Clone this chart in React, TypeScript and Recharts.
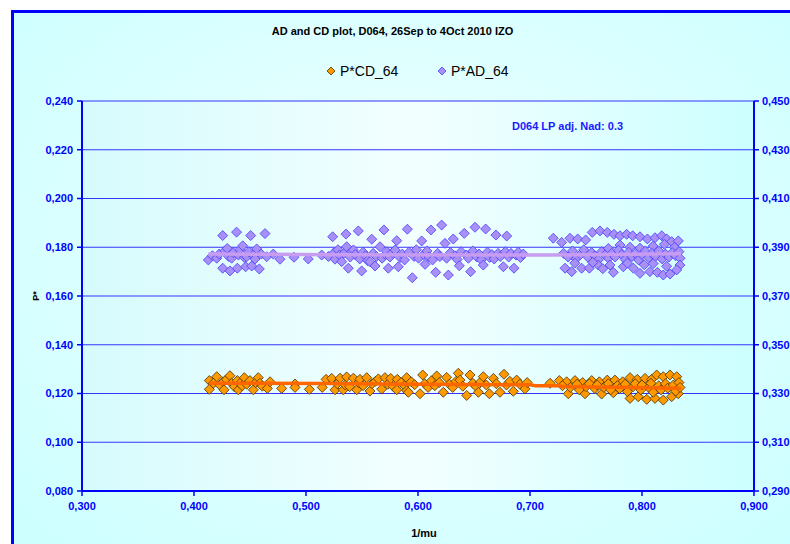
import React from "react";
import { ComposedChart, Scatter, XAxis, YAxis, CartesianGrid } from "recharts";

const xTicks = [0.3, 0.4, 0.5, 0.6, 0.7, 0.8, 0.9];
const leftTicks = [0.08, 0.1, 0.12, 0.14, 0.16, 0.18, 0.2, 0.22, 0.24];
const rightTicks = [0.29, 0.31, 0.33, 0.35, 0.37, 0.39, 0.41, 0.43, 0.45];

const titleText = "AD and CD plot, D064, 26Sep to 4Oct 2010 IZO";
const noteText = "D064 LP adj. Nad: 0.3";
const cdName = "P*CD_64";
const adName = "P*AD_64";

const adPoints: [number, number][] = [
  [0.4128,0.1748],[0.4165,0.1765],[0.4203,0.1755],[0.4225,0.1772],[0.4256,0.1848],[0.4256,0.1714],[0.4275,0.1785],[0.4297,0.1795],[0.4310,0.1762],[0.4321,0.1703],[0.4336,0.1755],[0.4350,0.1778],[0.4380,0.1862],[0.4387,0.1714],[0.4396,0.1768],[0.4410,0.1790],[0.4435,0.1806],[0.4450,0.1758],[0.4461,0.1720],[0.4470,0.1761],[0.4490,0.1782],[0.4506,0.1848],[0.4515,0.1723],[0.4530,0.1768],[0.4545,0.1752],[0.4560,0.1793],[0.4583,0.1711],[0.4600,0.1772],[0.4634,0.1856],[0.4649,0.1761],[0.4708,0.1772],[0.4768,0.1751],[0.4893,0.1759],[0.5020,0.1752],[0.5140,0.1768],
  [0.5200,0.1762],[0.5238,0.1843],[0.5250,0.1778],[0.5259,0.1751],[0.5285,0.1790],[0.5300,0.1768],[0.5319,0.1741],[0.5340,0.1775],[0.5357,0.1854],[0.5363,0.1802],[0.5378,0.1714],[0.5395,0.1760],[0.5410,0.1783],[0.5423,0.1789],[0.5440,0.1770],[0.5467,0.1867],[0.5480,0.1752],[0.5497,0.1703],[0.5510,0.1780],[0.5530,0.1765],[0.5550,0.1745],[0.5571,0.1741],[0.5587,0.1833],[0.5600,0.1775],[0.5616,0.1723],[0.5630,0.1762],[0.5661,0.1802],[0.5680,0.1755],[0.5696,0.1871],[0.5710,0.1770],[0.5721,0.1782],[0.5735,0.1714],[0.5750,0.1760],[0.5770,0.1778],[0.5795,0.1789],[0.5810,0.1827],[0.5824,0.1720],[0.5840,0.1758],[0.5860,0.1772],[0.5880,0.1748],[0.5905,0.1874],[0.5920,0.1780],[0.5949,0.1675],[0.5965,0.1762],[0.5985,0.1790],[0.6005,0.1755],[0.6033,0.1826],[0.6050,0.1770],[0.6063,0.1730],[0.6080,0.1785],[0.6100,0.1760],[0.6116,0.1871],[0.6130,0.1748],[0.6158,0.1697],[0.6175,0.1775],[0.6195,0.1762],[0.6211,0.1891],[0.6241,0.1816],[0.6255,0.1755],[0.6271,0.1686],[0.6290,0.1778],[0.6315,0.1834],[0.6330,0.1765],[0.6350,0.1750],[0.6369,0.1724],[0.6385,0.1782],[0.6413,0.1857],[0.6430,0.1768],[0.6450,0.1755],[0.6470,0.1700],[0.6490,0.1785],[0.6509,0.1882],[0.6525,0.1760],[0.6545,0.1772],[0.6565,0.1748],[0.6583,0.1727],[0.6604,0.1875],[0.6620,0.1780],[0.6640,0.1758],[0.6660,0.1770],[0.6680,0.1752],[0.6696,0.1850],[0.6715,0.1775],[0.6735,0.1762],[0.6762,0.1720],[0.6780,0.1782],[0.6792,0.1846],[0.6810,0.1760],[0.6830,0.1775],[0.6857,0.1714],[0.6875,0.1768],[0.6895,0.1780],[0.6915,0.1758],[0.6940,0.1772],
  [0.7208,0.1837],[0.7283,0.1820],
  [0.7357,0.1837],[0.7426,0.1834],[0.7497,0.1830],[0.7556,0.1861],[0.7625,0.1867],[0.7690,0.1861],[0.7750,0.1853],[0.7804,0.1847],[0.7863,0.1853],[0.7917,0.1847],[0.7982,0.1843],[0.8048,0.1834],[0.8116,0.1839],[0.8176,0.1847],[0.8220,0.1834],[0.8265,0.1823],[0.8324,0.1826],
  [0.7804,0.1809],[0.7893,0.1800],[0.7982,0.1796],[0.8100,0.1805],[0.8200,0.1812],[0.8290,0.1800],[0.7700,0.1795],
  [0.7300,0.1775],[0.7340,0.1760],[0.7380,0.1785],[0.7410,0.1752],[0.7450,0.1770],[0.7480,0.1790],[0.7520,0.1758],[0.7550,0.1778],[0.7580,0.1765],[0.7610,0.1748],[0.7640,0.1782],[0.7670,0.1768],[0.7700,0.1755],[0.7730,0.1775],[0.7760,0.1760],[0.7790,0.1788],[0.7820,0.1770],[0.7850,0.1750],[0.7880,0.1780],[0.7910,0.1762],[0.7940,0.1775],[0.7970,0.1748],[0.8000,0.1770],[0.8030,0.1785],[0.8060,0.1758],[0.8090,0.1775],[0.8120,0.1762],[0.8150,0.1785],[0.8180,0.1752],[0.8210,0.1772],[0.8240,0.1760],[0.8270,0.1778],[0.8300,0.1765],[0.8330,0.1782],[0.8340,0.1755],
  [0.7313,0.1714],[0.7372,0.1700],[0.7461,0.1714],[0.7530,0.1714],[0.7610,0.1727],[0.7714,0.1727],[0.7744,0.1697],[0.7833,0.1720],[0.7923,0.1714],[0.7982,0.1693],[0.8071,0.1700],[0.8137,0.1697],[0.8190,0.1686],[0.8250,0.1690],[0.8339,0.1727],[0.8310,0.1707],[0.7400,0.1735],[0.7560,0.1738],[0.7650,0.1712],[0.7870,0.1735],[0.8020,0.1728],[0.8100,0.1733],[0.8220,0.1722],
];

const cdPoints: [number, number][] = [
  [0.4137,0.1253],[0.4137,0.1217],[0.4173,0.1242],[0.4203,0.1269],[0.4230,0.1235],[0.4262,0.1248],[0.4268,0.1215],[0.4290,0.1258],[0.4321,0.1273],[0.4336,0.1242],[0.4360,0.1228],[0.4387,0.1253],[0.4396,0.1215],[0.4411,0.1242],[0.4430,0.1232],[0.4449,0.1265],[0.4470,0.1238],[0.4500,0.1253],[0.4530,0.1215],[0.4550,0.1245],[0.4574,0.1265],[0.4589,0.1242],[0.4610,0.1230],[0.4655,0.1221],[0.4679,0.1248],[0.4783,0.1221],[0.4902,0.1239],[0.4902,0.1225],[0.5030,0.1217],[0.5145,0.1225],
  [0.5179,0.1258],[0.5229,0.1262],[0.5259,0.1215],[0.5280,0.1240],[0.5304,0.1263],[0.5333,0.1215],[0.5350,0.1235],[0.5363,0.1268],[0.5390,0.1228],[0.5423,0.1263],[0.5453,0.1215],[0.5470,0.1245],[0.5482,0.1258],[0.5510,0.1232],[0.5542,0.1265],[0.5571,0.1210],[0.5590,0.1240],[0.5620,0.1250],[0.5646,0.1260],[0.5676,0.1218],[0.5705,0.1265],[0.5730,0.1238],[0.5756,0.1262],[0.5780,0.1228],[0.5810,0.1215],[0.5815,0.1258],[0.5850,0.1245],[0.5880,0.1232],[0.5899,0.1265],[0.5899,0.1212],[0.5914,0.1205],[0.5940,0.1248],[0.5970,0.1236],[0.6018,0.1199],[0.6042,0.1276],[0.6060,0.1240],[0.6090,0.1225],[0.6120,0.1252],[0.6150,0.1232],[0.6167,0.1272],[0.6190,0.1245],[0.6226,0.1205],[0.6256,0.1266],[0.6280,0.1238],[0.6310,0.1225],[0.6340,0.1250],[0.6360,0.1283],[0.6375,0.1255],[0.6400,0.1230],[0.6435,0.1192],[0.6464,0.1276],[0.6490,0.1242],[0.6520,0.1228],[0.6539,0.1205],[0.6560,0.1248],[0.6583,0.1269],[0.6610,0.1235],[0.6637,0.1199],[0.6673,0.1262],[0.6700,0.1240],[0.6732,0.1205],[0.6768,0.1279],[0.6790,0.1235],[0.6820,0.1250],[0.6851,0.1209],[0.6881,0.1255],[0.6910,0.1238],[0.6955,0.1219],[0.6975,0.1245],
  [0.7179,0.1242],
  [0.7262,0.1253],[0.7327,0.1248],[0.7402,0.1253],[0.7470,0.1245],[0.7551,0.1253],[0.7619,0.1248],[0.7690,0.1255],[0.7759,0.1255],[0.7827,0.1248],[0.7893,0.1265],[0.7958,0.1258],[0.8027,0.1262],[0.8086,0.1258],[0.8131,0.1276],[0.8190,0.1269],[0.8250,0.1276],[0.8310,0.1269],
  [0.7342,0.1199],[0.7491,0.1199],[0.7640,0.1198],[0.7744,0.1203],[0.7893,0.1180],[0.7967,0.1187],[0.8042,0.1176],[0.8116,0.1180],[0.8190,0.1173],[0.8265,0.1187],[0.8324,0.1199],
  [0.7290,0.1232],[0.7360,0.1225],[0.7420,0.1238],[0.7440,0.1215],[0.7500,0.1228],[0.7530,0.1240],[0.7580,0.1220],[0.7600,0.1235],[0.7660,0.1225],[0.7700,0.1240],[0.7720,0.1215],[0.7780,0.1232],[0.7800,0.1220],[0.7850,0.1238],[0.7870,0.1208],[0.7920,0.1228],[0.7940,0.1240],[0.7990,0.1215],[0.8000,0.1235],[0.8060,0.1225],[0.8080,0.1242],[0.8100,0.1205],[0.8150,0.1232],[0.8170,0.1215],[0.8210,0.1240],[0.8230,0.1222],[0.8280,0.1235],[0.8300,0.1210],[0.8330,0.1245],[0.8340,0.1225],
];

const adTrend: [number, number][] = [[0.4128,0.1772],[0.47,0.1771],[0.52,0.1769],[0.70,0.1768],[0.72,0.1768],[0.835,0.1773]];
const cdTrend: [number, number][] = [[0.4137,0.1242],[0.52,0.1241],[0.60,0.1238],[0.70,0.1236],[0.705,0.1232],[0.725,0.1232],[0.73,0.1229],[0.835,0.1222]];

const toObj = (arr: [number, number][]) => arr.map(([x, y]) => ({ x, y }));

const AD_FILL = "#a890f6";
const AD_STROKE = "#4a3cff";
const CD_FILL = "#ff9900";
const CD_STROKE = "#4a3000";
const BLUE = "#0000ff";

const makeDiamond = (fill: string, stroke: string, r: number) => (props: any) => {
  const { cx, cy } = props;
  if (cx == null || cy == null) return <g />;
  return (
    <polygon
      points={`${cx},${cy - r} ${cx + r},${cy} ${cx},${cy + r} ${cx - r},${cy}`}
      fill={fill}
      stroke={stroke}
      strokeWidth={0.8}
    />
  );
};

const fmt = (v: number) => v.toFixed(3).replace(".", ",");
const tickStyle = { fill: BLUE, fontSize: 11, fontWeight: 700, fontFamily: "Liberation Sans, Arial, sans-serif" };
const font = "Liberation Sans, Arial, sans-serif";

const Diamond = ({ fill, stroke }: { fill: string; stroke: string }) => (
  <svg width={10} height={10} style={{ display: "block" }}>
    <polygon points="5,1 9,5 5,9 1,5" fill={fill} stroke={stroke} strokeWidth={0.8} />
  </svg>
);

export default function App() {
  return (
    <div style={{ width: 790, height: 544, paddingLeft: 8, paddingTop: 8, boxSizing: "border-box", overflow: "hidden", background: "#fff" }}>
      <style>{`html, body { margin: 0; padding: 0; overflow: hidden; }`}</style>
      <div style={{ position: "relative", width: 782, height: 536, overflow: "hidden" }}>
        <div
          style={{
            position: "absolute", left: 3, top: 2, width: 779, height: 534,
            boxSizing: "border-box",
            background: "radial-gradient(ellipse at 50% 45%, #f4ffff 0%, #e0ffff 45%, #ccffff 100%)",
            borderTop: "3px solid #0000ff", borderLeft: "3px solid #0000ff",
          }}
        />
        <div
          style={{
            position: "absolute", left: 74, top: 93, width: 672, height: 390,
            background: "linear-gradient(90deg, #d6fbfd 0%, #f3ffff 50%, #ccffff 100%)",
          }}
        />
        <div style={{ position: "absolute", left: 0, top: 0 }}>
          <ComposedChart width={782} height={536} margin={{ top: 93, right: 0, bottom: 0, left: 0 }}>
            <CartesianGrid horizontal vertical={false} stroke="#3535ff" strokeWidth={1.2} yAxisId="left" />
            <XAxis
              type="number" dataKey="x" domain={[0.3, 0.9]} ticks={xTicks} allowDataOverflow
              height={53} tickFormatter={fmt} tick={tickStyle} tickSize={5} tickMargin={6}
              axisLine={{ stroke: BLUE, strokeWidth: 2 }} tickLine={{ stroke: BLUE, strokeWidth: 1.5 }}
              interval={0}
            />
            <YAxis
              yAxisId="left" type="number" dataKey="y" domain={[0.08, 0.24]} ticks={leftTicks} allowDataOverflow
              width={74} tickFormatter={fmt} tick={tickStyle} tickSize={5} tickMargin={4}
              axisLine={{ stroke: BLUE, strokeWidth: 2 }} tickLine={{ stroke: BLUE, strokeWidth: 1.5 }}
              interval={0}
            />
            <YAxis
              yAxisId="right" orientation="right" type="number" domain={[0.29, 0.45]} ticks={rightTicks} allowDataOverflow
              width={36} tickFormatter={fmt} tick={tickStyle} tickSize={5} tickMargin={3}
              axisLine={{ stroke: BLUE, strokeWidth: 2 }} tickLine={{ stroke: BLUE, strokeWidth: 1.5 }}
              interval={0}
            />
            <Scatter yAxisId="right" data={[]} isAnimationActive={false} legendType="none" />
            <Scatter yAxisId="left" name={adName} data={toObj(adPoints)} shape={makeDiamond(AD_FILL, AD_STROKE, 5)} isAnimationActive={false} />
            <Scatter yAxisId="left" name={cdName} data={toObj(cdPoints)} shape={makeDiamond(CD_FILL, CD_STROKE, 5)} isAnimationActive={false} />
            <Scatter yAxisId="left" data={toObj(adTrend)} line={{ stroke: "#c89cf0", strokeWidth: 3.5 }} lineType="joint" shape={() => <g />} isAnimationActive={false} legendType="none" />
            <Scatter yAxisId="left" data={toObj(cdTrend)} line={{ stroke: "#ff6600", strokeWidth: 3.5 }} lineType="joint" shape={() => <g />} isAnimationActive={false} legendType="none" />
          </ComposedChart>
        </div>
        <div style={{ position: "absolute", left: 384.5, top: 23, transform: "translate(-50%, -50%)", whiteSpace: "nowrap", fontFamily: font, fontWeight: 700, fontSize: 11, color: "#000" }}>
          {titleText}
        </div>
        <div style={{ position: "absolute", left: 318, top: 63, transform: "translateY(-50%)", display: "flex", alignItems: "center", fontFamily: font, fontSize: 14, color: "#000", whiteSpace: "nowrap" }}>
          <Diamond fill={CD_FILL} stroke={CD_STROKE} />
          <span style={{ marginLeft: 4 }}>{cdName}</span>
        </div>
        <div style={{ position: "absolute", left: 429, top: 63, transform: "translateY(-50%)", display: "flex", alignItems: "center", fontFamily: font, fontSize: 14, color: "#000", whiteSpace: "nowrap" }}>
          <Diamond fill={AD_FILL} stroke={AD_STROKE} />
          <span style={{ marginLeft: 4 }}>{adName}</span>
        </div>
        <div style={{ position: "absolute", left: 504, top: 118, transform: "translateY(-50%)", fontFamily: font, fontWeight: 700, fontSize: 11, color: "#1a1aff", whiteSpace: "nowrap" }}>
          {noteText}
        </div>
        <div style={{ position: "absolute", left: 416, top: 525, transform: "translate(-50%, -50%)", fontFamily: font, fontWeight: 700, fontSize: 11, color: "#000", whiteSpace: "nowrap" }}>
          1/mu
        </div>
        <div style={{ position: "absolute", left: 28, top: 288, transform: "translate(-50%, -50%) rotate(-90deg)", fontFamily: font, fontWeight: 700, fontSize: 9, color: "#000", whiteSpace: "nowrap" }}>
          P*
        </div>
      </div>
    </div>
  );
}
